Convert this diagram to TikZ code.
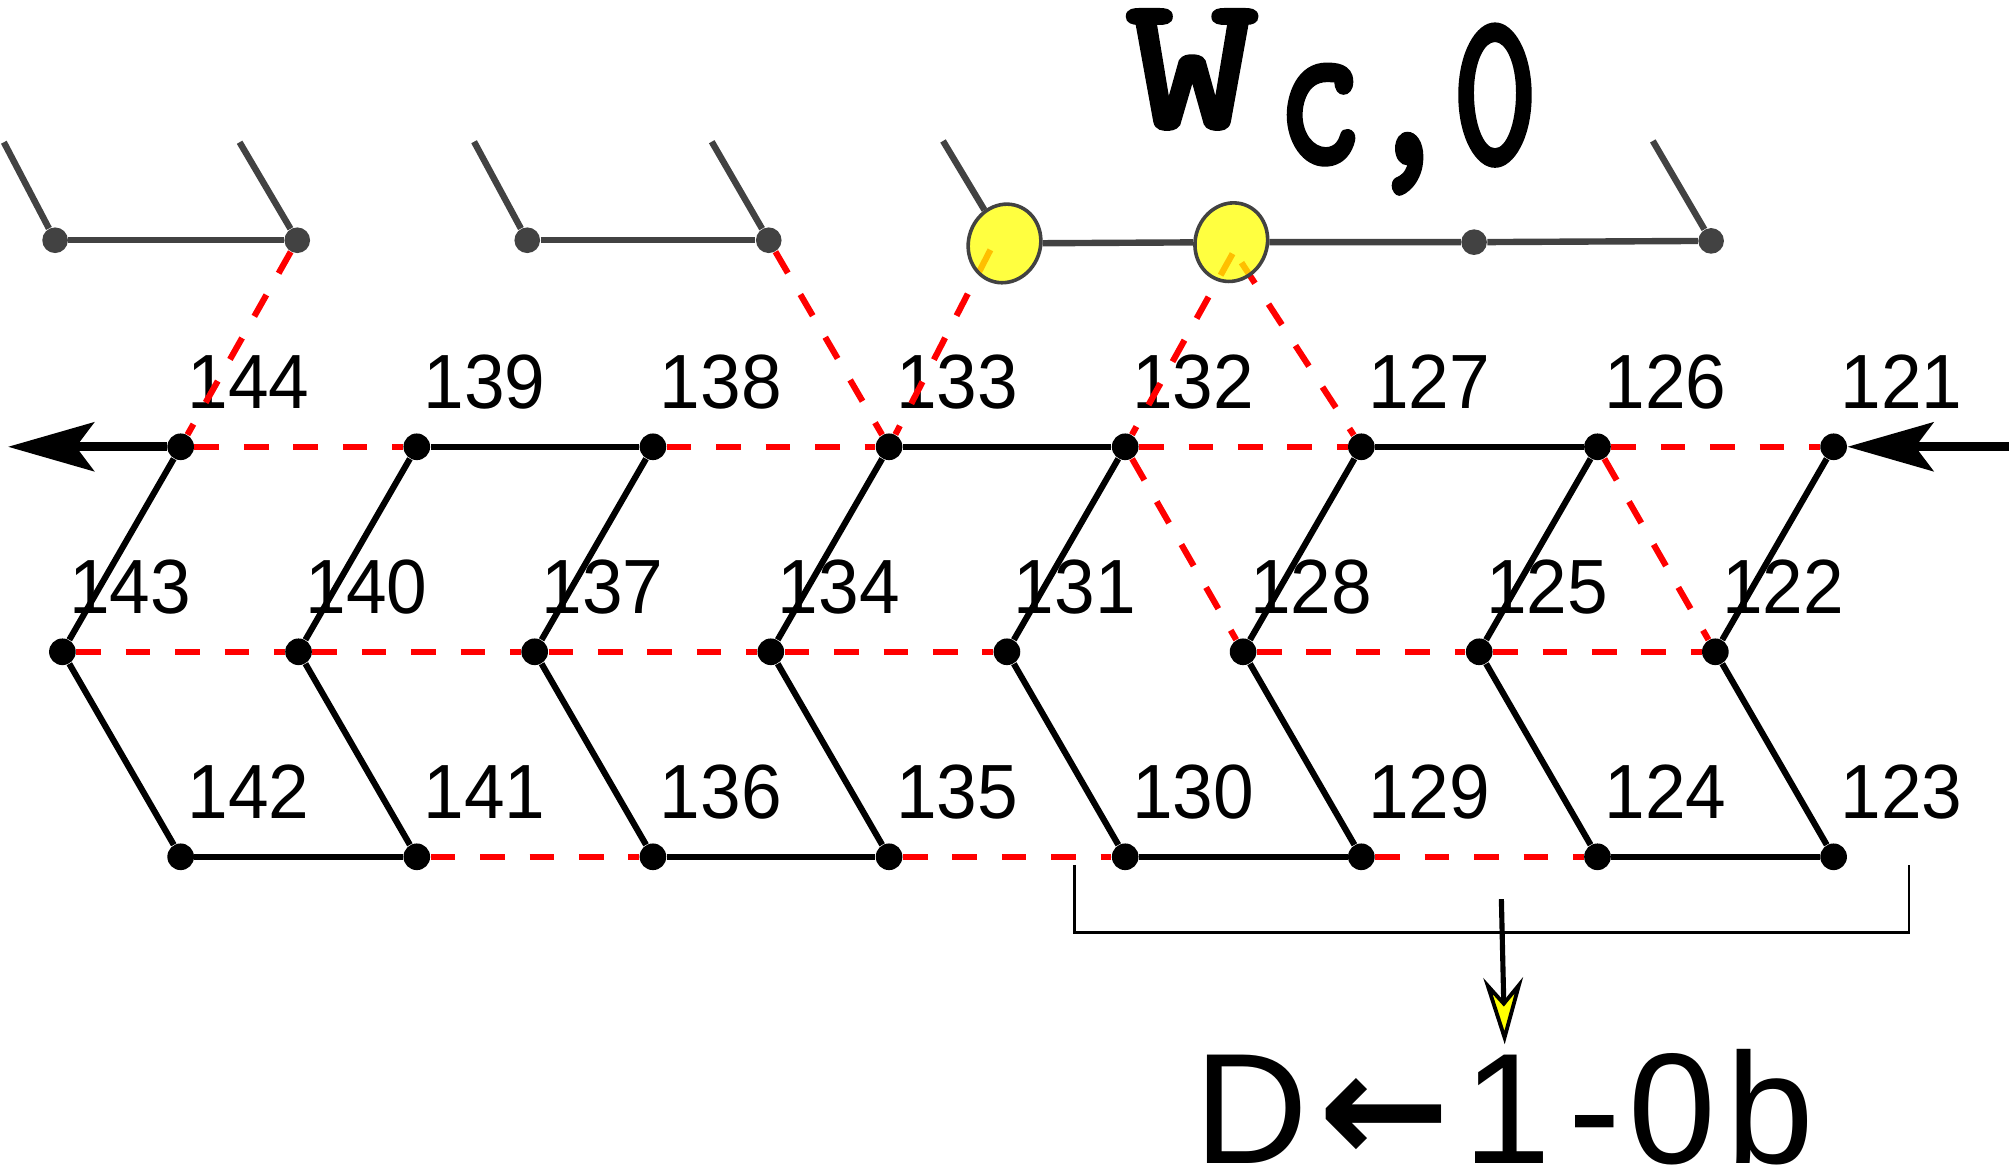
\documentclass[tikz,border=0pt]{standalone}
\usepackage{fontspec}
\setmainfont{Liberation Sans}
\newfontfamily\djv{DejaVu Sans}
\newfontfamily\ttbold{lmmonolt10-bold.otf}[FakeBold=1.2]
\usetikzlibrary{arrows.meta,shapes.geometric}
\definecolor{dgray}{HTML}{424242}
\definecolor{yel}{HTML}{FFFF00}
\begin{document}
\begin{tikzpicture}[x=0.5pt,y=-0.5pt,
  dotn/.style={circle,fill=black,inner sep=0pt,minimum size=10.4pt},
  gdot/.style={circle,fill=dgray,inner sep=0pt,minimum size=10pt},
  lbl/.style={anchor=base,inner sep=0pt,font=\fontsize{30}{30}\selectfont,xscale=0.95},
  blk/.style={line width=2.4pt,black},
  redd/.style={line width=2.4pt,red,dash pattern=on 9.6pt off 9.7pt},
  grayl/.style={line width=2.5pt,dgray},
  bigarrow/.style={line width=3.4pt,-{Stealth[length=33.5pt,width=19pt,inset=7pt]}},
  yell/.style={ellipse,draw=dgray,line width=1.4pt,fill=yel,fill opacity=0.75,draw opacity=1,minimum width=28pt,minimum height=31pt,inner sep=0pt,rotate=-20}
]
\useasboundingbox (0,0) rectangle (1568,916.3);

% labels and lattice nodes
\foreach \i/\tl/\ml/\bl in {0/144/143/142,1/139/140/141,2/138/137/136,3/133/134/135,4/132/131/130,5/127/128/129,6/126/125/124,7/121/122/123}{
  \pgfmathsetmacro\xt{141+184.3*\i}
  \pgfmathsetmacro\xm{48.7+184.3*\i}
  \node[lbl] (lt\i) at (\xt+53,318.7) {\tl};
  \node[lbl] (lm\i) at (\xm+53,478.7) {\ml};
  \node[lbl] (lb\i) at (\xt+53,638.7) {\bl};
  \node[dotn] (t\i) at (\xt,348.7) {};
  \node[dotn] (m\i) at (\xm,508.7) {};
  \node[dotn] (b\i) at (\xt,668.7) {};
}

% gray top row dots
\node[gdot] (g1) at (43,187.5) {};
\node[gdot] (g2) at (232,187.5) {};
\node[gdot] (g3) at (411.5,187.5) {};
\node[gdot] (g4) at (600,187.5) {};
\node[gdot] (g7) at (1150.5,189) {};
\node[gdot] (g8) at (1335.5,188) {};
\coordinate (k1) at (3,111);
\coordinate (k2) at (187,111);
\coordinate (k3) at (370,110.6);
\coordinate (k4) at (555.5,110.6);
\coordinate (k5) at (736,110);
\coordinate (k8) at (1290,110);
\coordinate (c1) at (773,195);
\coordinate (c2) at (962,198);
\coordinate (c3) at (969,205);

% lattice lines
\foreach \i in {0,...,7}{
  \draw[blk] (t\i) -- (m\i);
  \draw[blk] (m\i) -- (b\i);
}
\foreach \a/\b in {1/2,3/4,5/6}{\draw[blk] (t\a) -- (t\b);}
\foreach \a/\b in {0/1,2/3,4/5,6/7}{\draw[redd] (t\a) -- (t\b);}
\foreach \a/\b in {0/1,1/2,2/3,3/4,5/6,6/7}{\draw[redd] (m\a) -- (m\b);}
\foreach \a/\b in {0/1,2/3,4/5,6/7}{\draw[blk] (b\a) -- (b\b);}
\foreach \a/\b in {1/2,3/4,5/6}{\draw[redd] (b\a) -- (b\b);}
\draw[redd] (t4) -- (m5);
\draw[redd] (t6) -- (m7);

% red links to top row
\draw[redd] (g2) -- (t0);
\draw[redd] (g4) -- (t3);
\draw[redd] (c1) -- (t3);
\draw[redd] (c2) -- (t4);
\draw[redd] (c3) -- (t5);

% yellow ellipses
\node[yell] (e1) at (784,190) {};
\node[yell] (e2) at (961,189) {};

% gray lines
\draw[grayl] (g1) -- (g2);
\draw[grayl] (g3) -- (g4);
\draw[grayl] (e1) -- (e2);
\draw[grayl] (e2) -- (g7);
\draw[grayl] (g7) -- (g8);
\draw[grayl] (k1) -- (g1);
\draw[grayl] (k2) -- (g2);
\draw[grayl] (k3) -- (g3);
\draw[grayl] (k4) -- (g4);
\draw[grayl] (k5) -- (e1);
\draw[grayl] (k8) -- (g8);

% big arrows
\coordinate (larr) at (6.3,348.7);
\coordinate (rarr) at (1600,348.7);
\draw[bigarrow] (t0) -- (larr);
\draw[bigarrow] (rarr) -- (t7);

% bracket and arrow
\coordinate (br1) at (838.8,675);
\coordinate (br2) at (838.8,728);
\coordinate (br3) at (1490,728);
\coordinate (br4) at (1490,675);
\draw[line width=1pt] (br1) -- (br2) -- (br3) -- (br4);
\coordinate (a1) at (1171.8,701.8);
\coordinate (a2) at (1174.4,815);
\draw[line width=2pt,-{Stealth[length=26pt,width=15.5pt,inset=9pt,fill=yel,line width=1.5pt]}] (a1) -- (a2);

% texts
\node[anchor=base,inner sep=0pt,font=\fontsize{61.5}{61.5}\selectfont] (dtxt) at (1174,908) {D\kern4pt{\djv\bfseries ←}\kern5pt 1\kern7pt -\kern3pt 0\kern4pt b};
\node[anchor=base,inner sep=0pt,font=\ttbold\fontsize{76}{76}\selectfont,xscale=1.32] (wt) at (930.5,100) {W};
\node[anchor=base,inner sep=0pt,font=\ttbold\fontsize{88}{88}\selectfont,xscale=0.74] (ct) at (1098.5,128) {c,0};
\end{tikzpicture}
\end{document}
